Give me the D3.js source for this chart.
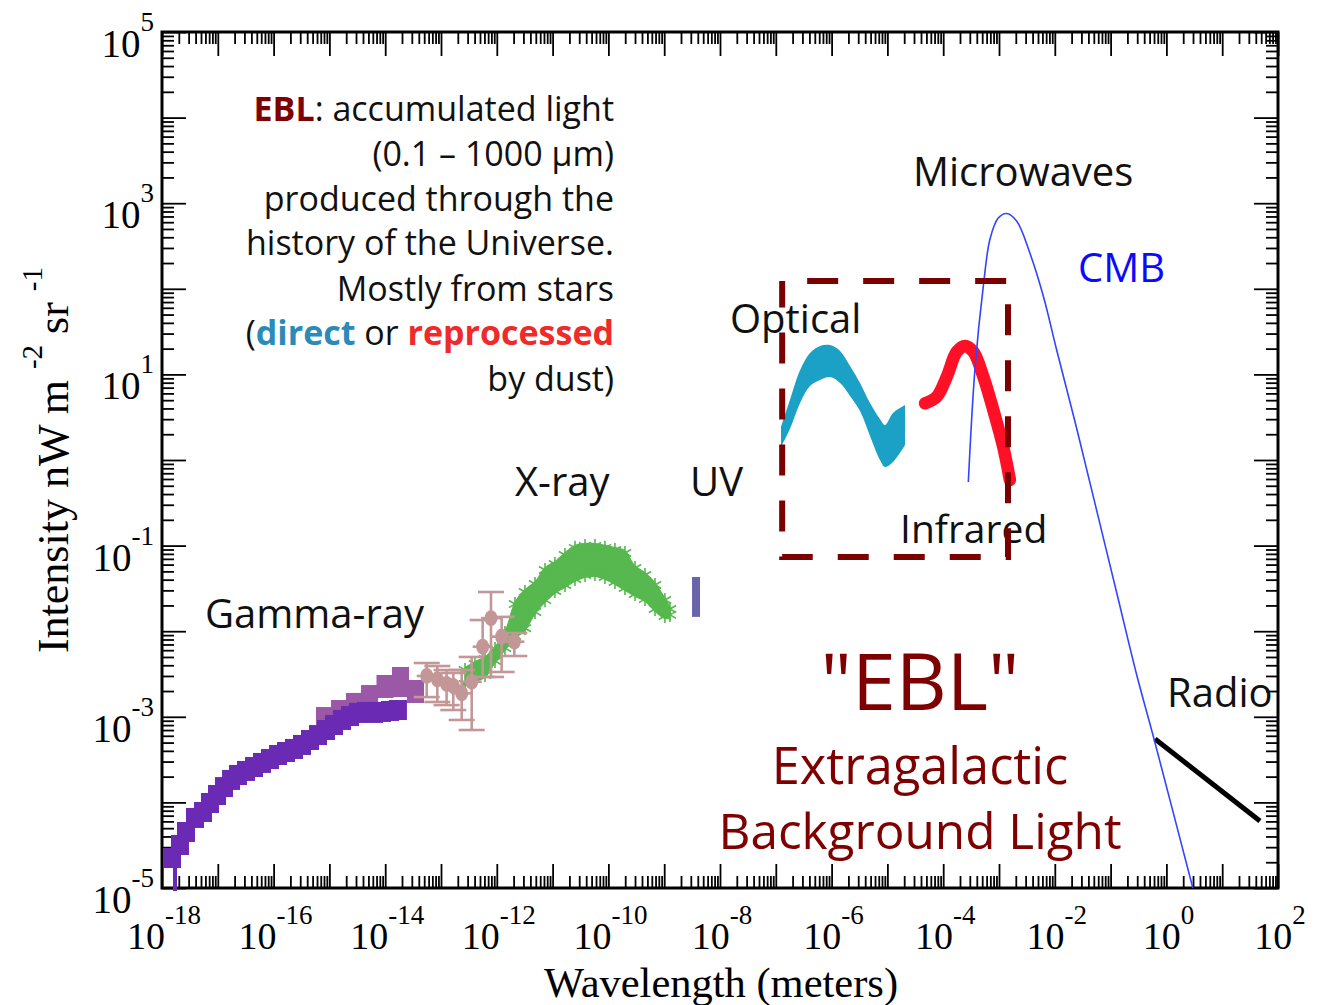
<!DOCTYPE html>
<html>
<head>
<meta charset="utf-8">
<script src="https://cdn.jsdelivr.net/npm/d3@7"></script>
<style>
  body { margin: 0; background: #fff; }
  svg { display: block; }
</style>
</head>
<body>
<svg id="chart" width="1327" height="1005"></svg>
<script>
// Wavelength in metres, intensity (nu I_nu) in nW m^-2 sr^-1

// axis labelling
const xLabelExps = [-18, -16, -14, -12, -10, -8, -6, -4, -2, 0, 2];
const yLabelExps = [5, 3, 1, -1, -3, -5];

// gamma-ray measurements (dark purple)
const gammaLambda = [1.51e-18, 2.10e-18, 2.69e-18, 3.90e-18, 5.43e-18, 7.24e-18, 9.68e-18, 1.29e-17,
  1.73e-17, 2.30e-17, 3.20e-17, 4.46e-17, 6.19e-17, 8.61e-17, 1.20e-16, 1.67e-16, 2.32e-16,
  3.23e-16, 4.49e-16, 6.25e-16, 8.69e-16, 1.21e-15, 1.68e-15, 2.34e-15, 3.26e-15, 4.53e-15,
  6.30e-15, 8.77e-15, 1.22e-14, 1.69e-14];
const gammaI = [2.24e-5, 3.18e-5, 4.51e-5, 6.58e-5, 7.73e-5, 9.84e-5, 1.22e-4, 1.51e-4,
  1.83e-4, 2.09e-4, 2.33e-4, 2.59e-4, 2.89e-4, 3.21e-4, 3.58e-4, 3.88e-4, 4.21e-4,
  4.69e-4, 5.36e-4, 6.12e-4, 7.01e-4, 8.02e-4, 9.18e-4, 1.02e-3, 1.11e-3, 1.14e-3,
  1.11e-3, 1.14e-3, 1.17e-3, 1.20e-3];
// long lower error bar on the softest gamma-ray point
const gammaTailLambda = 1.71e-18;
const gammaTailRange = [9.2e-6, 3.36e-5];

// gamma-ray measurements (light purple boxes)
const gammaBoxLambda = [8.17e-16, 1.52e-15, 2.82e-15, 5.24e-15, 9.91e-15, 1.88e-14, 3.49e-14];
const gammaBoxLow    = [8.02e-4, 9.95e-4, 1.14e-3, 1.30e-3, 1.66e-3, 1.70e-3, 1.45e-3];
const gammaBoxHigh   = [1.30e-3, 1.57e-3, 1.90e-3, 2.35e-3, 3.08e-3, 3.82e-3, 2.69e-3];

// hard X-ray points with error bars
const hxLambda = [5.55e-14, 8.59e-14, 1.26e-13, 1.66e-13, 2.35e-13, 3.55e-13, 5.58e-13, 7.87e-13, 1.22e-12, 2.06e-12];
const hxI      = [3.00e-3, 2.74e-3, 2.42e-3, 2.29e-3, 1.88e-3, 2.57e-3, 6.59e-3, 1.42e-2, 8.63e-3, 7.54e-3];
const hxLow    = [1.70e-3, 1.49e-3, 1.37e-3, 1.20e-3, 9.18e-4, 7.01e-4, 2.92e-3, 2.92e-3, 3.34e-3, 5.13e-3];
const hxHigh   = [4.25e-3, 3.92e-3, 3.52e-3, 3.25e-3, 3.52e-3, 5.00e-3, 1.35e-2, 2.87e-2, 1.47e-2, 9.53e-3];

// X-ray background band
const xrayLambda = [2.69e-13, 4.06e-13, 6.15e-13, 9.29e-13, 1.40e-12, 2.12e-12, 3.20e-12, 4.84e-12,
  7.31e-12, 1.10e-11, 1.67e-11, 2.52e-11, 3.81e-11, 5.75e-11, 8.69e-11, 1.31e-10, 1.98e-10,
  3.00e-10, 4.53e-10, 6.84e-10, 1.03e-9, 1.27e-9];
const xrayHigh = [3.82e-3, 4.49e-3, 5.13e-3, 6.71e-3, 1.03e-2, 2.25e-2, 3.11e-2, 3.86e-2,
  5.62e-2, 6.61e-2, 8.41e-2, 0.102, 0.107, 0.107, 0.102, 9.64e-2, 8.89e-2,
  5.93e-2, 4.92e-2, 3.76e-2, 2.51e-2, 1.97e-2];
const xrayLow = [2.23e-3, 2.55e-3, 2.84e-3, 4.14e-3, 5.87e-3, 8.11e-3, 1.00e-2, 1.55e-2,
  2.13e-2, 2.72e-2, 3.20e-2, 3.76e-2, 4.18e-2, 4.30e-2, 3.96e-2, 3.47e-2, 2.95e-2,
  2.51e-2, 2.19e-2, 1.68e-2, 1.39e-2, 1.43e-2];

// UV constraint
const uvLambda = 3.72e-9;
const uvRange = [1.47e-2, 4.3e-2];

// optical EBL (direct starlight), band
const optLambda = [1.24e-7, 1.79e-7, 2.72e-7, 4.10e-7, 6.19e-7, 9.35e-7, 1.42e-6, 2.14e-6,
  3.23e-6, 4.88e-6, 7.36e-6, 9.06e-6, 1.26e-5, 2.07e-5];
const optHigh = [2.43, 5.02, 11.2, 17.8, 21.5, 22.0, 18.8, 12.5, 7.94, 4.63, 3.01, 2.56, 3.54, 4.39];
const optLow  = [1.42, 2.30, 4.63, 7.31, 8.61, 9.33, 7.94, 5.60, 3.73, 1.91, 1.00, 0.828, 0.948, 1.50];

// infrared EBL (dust-reprocessed)
const irLambda = [4.72e-5, 7.66e-5, 1.16e-4, 1.75e-4, 2.46e-4, 3.46e-4, 5.24e-4, 7.91e-4, 1.19e-3, 1.57e-3];
const irI      = [4.59, 5.49, 9.40, 18.4, 21.5, 18.4, 9.40, 3.84, 1.43, 0.584];

// cosmic microwave background
const cmbLambda = [2.82e-4, 3.72e-4, 5.24e-4, 6.90e-4, 9.70e-4, 1.37e-3, 2.07e-3, 3.60e-3,
  6.22e-3, 1.08e-2, 2.47e-2, 5.64e-2, 0.129, 0.294, 0.600, 3.0, 3.6];
const cmbI = [0.553, 11.9, 108, 382, 671, 757, 619, 258, 82.4, 19.3, 2.33, 0.256,
  2.79e-2, 3.08e-3, 5.51e-4, 9.8e-6, 6.3e-6];

// radio background
const radioLambda = [0.625, 47.5];
const radioI = [5.5e-4, 6.07e-5];

// EBL window outline
const eblBoxLambda = [1.3e-7, 1.45e-3];
const eblBoxI = [7.36e-2, 123];

// ---------------------------------------------------------------
const svg = d3.select("#chart");
const X0 = 162, X1 = 1278, Y0 = 32, Y1 = 888;
const x = d3.scaleLog().domain([1e-18, 1e2]).range([X0, X1]);
const y = d3.scaleLog().domain([1e-5, 1e5]).range([Y1, Y0]);

const serif = "'Liberation Serif','Times New Roman',serif";
const sans = "'Open Sans','Noto Sans',sans-serif";

svg.append("rect").attr("width", 1327).attr("height", 1005).attr("fill", "#fff");

svg.append("defs").append("clipPath").attr("id", "plotClip")
  .append("rect").attr("x", X0).attr("y", Y0).attr("width", X1 - X0).attr("height", Y1 - Y0);

// tick values
const xMajor = d3.range(-18, 3).map(e => Math.pow(10, e));
const xMinor = [];
d3.range(-18, 2).forEach(e => { for (let m = 2; m <= 9; m++) xMinor.push(m * Math.pow(10, e)); });
const yMajor = d3.range(-5, 6).map(e => Math.pow(10, e));
const yMinor = [];
d3.range(-5, 5).forEach(e => { for (let m = 2; m <= 9; m++) yMinor.push(m * Math.pow(10, e)); });

function tickAxis(gen, vals, len, tr) {
  const g = svg.append("g").attr("transform", tr)
    .call(gen.tickValues(vals).tickSize(-len).tickFormat(""));
  g.select(".domain").remove();
  g.selectAll(".tick line").attr("stroke", "#000").attr("stroke-width", 1.8);
}
tickAxis(d3.axisBottom(x), xMajor, 24, `translate(0,${Y1})`);
tickAxis(d3.axisBottom(x), xMinor, 12, `translate(0,${Y1})`);
tickAxis(d3.axisTop(x), xMajor, 24, `translate(0,${Y0})`);
tickAxis(d3.axisTop(x), xMinor, 12, `translate(0,${Y0})`);
tickAxis(d3.axisLeft(y), yMajor, 24, `translate(${X0},0)`);
tickAxis(d3.axisLeft(y), yMinor, 12, `translate(${X0},0)`);
tickAxis(d3.axisRight(y), yMajor, 24, `translate(${X1},0)`);
tickAxis(d3.axisRight(y), yMinor, 12, `translate(${X1},0)`);

svg.append("rect").attr("x", X0).attr("y", Y0).attr("width", X1 - X0).attr("height", Y1 - Y0)
  .attr("fill", "none").attr("stroke", "#000").attr("stroke-width", 3);

// tick labels as 10^n
const xl = svg.append("g").attr("font-family", serif).attr("fill", "#000");
xLabelExps.forEach(e => {
  const t = xl.append("text").attr("x", x(Math.pow(10, e)) + 2).attr("y", Y1 + 61)
    .attr("text-anchor", "middle").attr("font-size", 38);
  t.append("tspan").text("10");
  t.append("tspan").attr("dy", -25).attr("font-size", 27).text(e);
});
const yl = svg.append("g").attr("font-family", serif).attr("fill", "#000");
yLabelExps.forEach(e => {
  const t = yl.append("text").attr("x", 154).attr("y", y(Math.pow(10, e)) + 25)
    .attr("text-anchor", "end").attr("font-size", 39);
  t.append("tspan").text("10");
  t.append("tspan").attr("dy", -26).attr("font-size", 27).text(e);
});

// axis titles
svg.append("text").attr("x", 721).attr("y", 997).attr("text-anchor", "middle")
  .attr("font-family", serif).attr("font-size", 42.5).text("Wavelength (meters)");
const yt = svg.append("text").attr("transform", "translate(68,460) rotate(-90)")
  .attr("text-anchor", "middle").attr("font-family", serif).attr("font-size", 44);
yt.append("tspan").text("Intensity nW m ");
yt.append("tspan").attr("dy", -26).attr("font-size", 29).text("-2");
yt.append("tspan").attr("dy", 26).text(" sr ");
yt.append("tspan").attr("dy", -26).attr("font-size", 29).text("-1");

// ---- data marks ----
const plot = svg.append("g");

// gamma-ray: light purple boxes
plot.append("g").selectAll("rect").data(gammaBoxLambda).join("rect")
  .attr("x", d => x(d) - 8.5).attr("width", 17)
  .attr("y", (d, i) => y(gammaBoxHigh[i]))
  .attr("height", (d, i) => y(gammaBoxLow[i]) - y(gammaBoxHigh[i]))
  .attr("fill", "#9a58a6");

// gamma-ray: dark purple points
plot.append("line").attr("x1", x(gammaTailLambda)).attr("x2", x(gammaTailLambda))
  .attr("y1", y(gammaTailRange[1])).attr("y2", y(gammaTailRange[0]))
  .attr("stroke", "#6b2ab4").attr("stroke-width", 4);
plot.append("g").selectAll("rect").data(gammaLambda).join("rect")
  .attr("x", d => x(d) - 9).attr("width", 18)
  .attr("y", (d, i) => y(gammaI[i]) - 10).attr("height", 20)
  .attr("fill", "#6b2ab4");

// X-ray band
const xrayArea = d3.area().curve(d3.curveCatmullRom)
  .x(d => x(d)).y0((d, i) => y(xrayLow[i])).y1((d, i) => y(xrayHigh[i]));
plot.append("path").datum(xrayLambda).attr("d", xrayArea).attr("fill", "#56b84e");
const star = d3.symbol().type(d3.symbolAsterisk).size(140);
const starG = plot.append("g").attr("stroke", "#56b84e").attr("stroke-width", 1.6).attr("fill", "none");
xrayLambda.forEach((d, i) => {
  starG.append("path").attr("d", star).attr("transform", `translate(${x(d)},${y(xrayHigh[i]) + 3})`);
  starG.append("path").attr("d", star).attr("transform", `translate(${x(d)},${y(xrayLow[i]) - 3})`);
});

// hard X-ray points
const hx = plot.append("g").attr("stroke", "#c39797").attr("stroke-width", 2.6);
hxLambda.forEach((d, i) => {
  const cx = x(d);
  hx.append("line").attr("x1", cx).attr("x2", cx).attr("y1", y(hxHigh[i])).attr("y2", y(hxLow[i]));
  hx.append("line").attr("x1", cx - 13).attr("x2", cx + 13).attr("y1", y(hxHigh[i])).attr("y2", y(hxHigh[i]));
  hx.append("line").attr("x1", cx - 13).attr("x2", cx + 13).attr("y1", y(hxLow[i])).attr("y2", y(hxLow[i]));
  hx.append("line").attr("x1", cx - 10).attr("x2", cx + 10).attr("y1", y(hxI[i])).attr("y2", y(hxI[i]));
  hx.append("ellipse").attr("cx", cx).attr("cy", y(hxI[i])).attr("rx", 6.5).attr("ry", 8)
    .attr("fill", "#c39797").attr("stroke", "none");
});

// UV
plot.append("rect").attr("x", x(uvLambda) - 4).attr("width", 8)
  .attr("y", y(uvRange[1])).attr("height", y(uvRange[0]) - y(uvRange[1]))
  .attr("fill", "#6a64ab");

// optical band
const optArea = d3.area().curve(d3.curveCatmullRom)
  .x(d => x(d)).y0((d, i) => y(optLow[i])).y1((d, i) => y(optHigh[i]));
plot.append("path").datum(optLambda).attr("d", optArea).attr("fill", "#1ba1c5");

// infrared
const line = d3.line().curve(d3.curveCatmullRom);
plot.append("path").attr("d", line(irLambda.map((d, i) => [x(d), y(irI[i])])))
  .attr("fill", "none").attr("stroke", "#ff1026").attr("stroke-width", 12.5)
  .attr("stroke-linecap", "round").attr("stroke-linejoin", "round");

// radio
plot.append("path").attr("d", d3.line()(radioLambda.map((d, i) => [x(d), y(radioI[i])])))
  .attr("stroke", "#000").attr("stroke-width", 5);

// CMB
plot.append("path").attr("clip-path", "url(#plotClip)")
  .attr("d", line(cmbLambda.map((d, i) => [x(d), y(cmbI[i])])))
  .attr("fill", "none").attr("stroke", "#3344ff").attr("stroke-width", 1.6);

// ---- annotations ----
const ann = svg.append("g").attr("font-family", sans).attr("fill", "#111");
function label(txt, xp, yp, size, color, anchor) {
  return ann.append("text").attr("x", xp).attr("y", yp).attr("font-size", size)
    .attr("fill", color || "#111").attr("text-anchor", anchor || "start").text(txt);
}
label("Microwaves", 913, 186, 40);
label("CMB", 1078, 282, 40, "#0a0aff");
label("Optical", 730, 333, 40);
label("Infrared", 900, 543, 39);
label("X-ray", 515, 496, 40);
label("UV", 690, 496, 40);
label("Gamma-ray", 205, 628, 40);
label("Radio", 1167, 707, 40);
label("\"EBL\"", 920, 710, 79, "#7f0000", "middle");
label("Extragalactic", 920, 784, 50.5, "#7f0000", "middle");
label("Background Light", 920, 849, 49.5, "#7f0000", "middle");

// description block
const desc = svg.append("g").attr("font-family", sans).attr("font-size", 34)
  .attr("fill", "#111").attr("text-anchor", "end");
const d1 = desc.append("text").attr("x", 614).attr("y", 121);
d1.append("tspan").attr("font-weight", "bold").attr("fill", "#7f0000").text("EBL");
d1.append("tspan").text(": accumulated light");
desc.append("text").attr("x", 614).attr("y", 166).text("(0.1 \u2013 1000 \u03bcm)");
desc.append("text").attr("x", 614).attr("y", 211).text("produced through the");
desc.append("text").attr("x", 614).attr("y", 255).text("history of the Universe.");
desc.append("text").attr("x", 614).attr("y", 301).text("Mostly from stars");
const d6 = desc.append("text").attr("x", 614).attr("y", 345);
d6.append("tspan").text("(");
d6.append("tspan").attr("font-weight", "bold").attr("fill", "#2b8bb8").text("direct");
d6.append("tspan").text(" or ");
d6.append("tspan").attr("font-weight", "bold").attr("fill", "#ee2a2a").text("reprocessed");
desc.append("text").attr("x", 614).attr("y", 391).text("by dust)");

// EBL window outline (drawn last, over the curves)
svg.append("rect")
  .attr("x", x(eblBoxLambda[0])).attr("y", y(eblBoxI[1]))
  .attr("width", x(eblBoxLambda[1]) - x(eblBoxLambda[0]))
  .attr("height", y(eblBoxI[0]) - y(eblBoxI[1]))
  .attr("fill", "none").attr("stroke", "#7b0000").attr("stroke-width", 6)
  .attr("stroke-dasharray", "31,25").attr("stroke-dashoffset", 31);
</script>
</body>
</html>
